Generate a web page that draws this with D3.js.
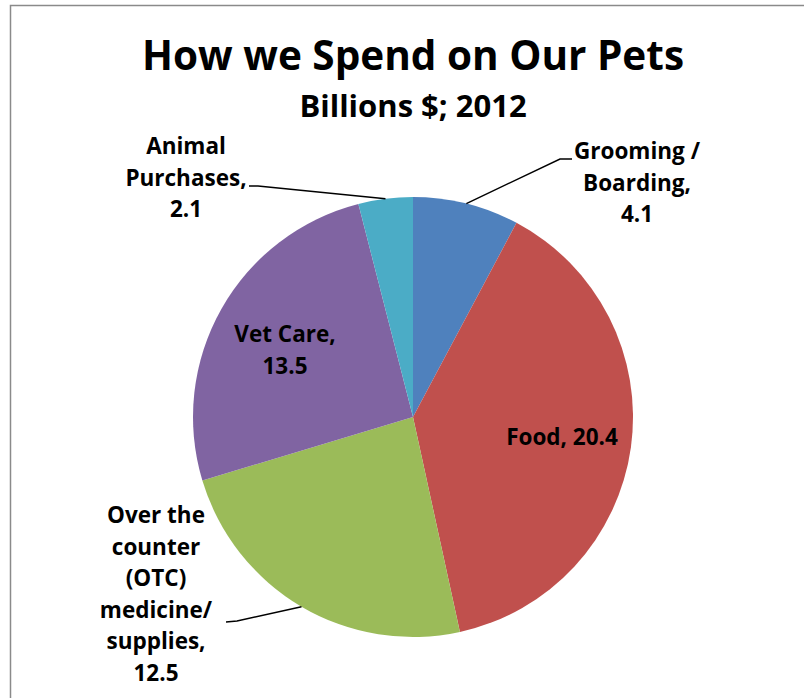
<!doctype html>
<html lang="en">
<head>
    <meta charset="UTF-8">
    <title>How we Spend on Our Pets</title>
    <style>
        body { margin: 0; background: #fff; }
        text { font-family: "Open Sans", "Noto Sans", sans-serif; font-weight: bold; fill: #000; }
    </style>
</head>
<body>
    <svg width="804" height="698"></svg>
    <script src="https://cdn.jsdelivr.net/npm/d3@7"></script>
    <script>
        const categories = ["Grooming / Boarding", "Food", "Over the counter (OTC) medicine/ supplies", "Vet Care", "Animal Purchases"];
        const values = [4.1, 20.4, 12.5, 13.5, 2.1];
        const colors = ["#4f81bd", "#c0504d", "#9bbb59", "#8064a2", "#4bacc6"];

        // label text lines, one array per slice
        const labelLines = [
            ["Grooming /", "Boarding,", "4.1"],
            ["Food, 20.4"],
            ["Over the", "counter", "(OTC)", "medicine/", "supplies,", "12.5"],
            ["Vet Care,", "13.5"],
            ["Animal", "Purchases,", "2.1"]
        ];

        const svg = d3.select("svg");
        const cx = 413, cy = 417, r = 220;

        // frame
        svg.append("rect")
            .attr("x", 10.5).attr("y", 5.5)
            .attr("width", 900).attr("height", 800)
            .attr("fill", "none")
            .attr("stroke", "#8a8a8a")
            .attr("stroke-width", 1.5);

        svg.append("text")
            .attr("x", 413).attr("y", 70)
            .attr("text-anchor", "middle")
            .attr("font-size", 40.5)
            .text("How we Spend on Our Pets");

        svg.append("text")
            .attr("x", 413).attr("y", 117)
            .attr("text-anchor", "middle")
            .attr("font-size", 31)
            .text("Billions $; 2012");

        const pie = d3.pie().sort(null).value(d => d);
        const arcs = pie(values);
        const arc = d3.arc().innerRadius(0).outerRadius(r);
        const edge = d3.arc().innerRadius(r).outerRadius(r);

        const g = svg.append("g").attr("transform", "translate(" + cx + "," + cy + ")");

        g.selectAll("path")
            .data(arcs)
            .enter().append("path")
            .attr("d", arc)
            .attr("fill", (d, i) => colors[i]);

        // label placement: x centre, first baseline, leader start points
        const labelPos = [
            {x: 637, y: 159, leader: [[572, 159], [560, 159]]},
            {x: 562, y: 445, leader: null},
            {x: 156, y: 523, leader: [[226, 622], [237, 621]]},
            {x: 285, y: 342, leader: null},
            {x: 186, y: 154, leader: [[249, 186], [258, 186]]}
        ];
        const step = 31.5;

        arcs.forEach((d, i) => {
            const p = labelPos[i];
            if (p.leader) {
                const c = edge.centroid(d);
                const pts = p.leader.concat([[cx + c[0], cy + c[1]]]);
                svg.append("path")
                    .attr("d", d3.line()(pts))
                    .attr("fill", "none")
                    .attr("stroke", "#000")
                    .attr("stroke-width", 1.5);
            }
            const t = svg.append("text")
                .attr("text-anchor", "middle")
                .attr("font-size", 22.5);
            labelLines[i].forEach((line, k) => {
                t.append("tspan")
                    .attr("x", p.x)
                    .attr("y", p.y + k * step)
                    .text(line);
            });
        });
    </script>
</body>
</html>
